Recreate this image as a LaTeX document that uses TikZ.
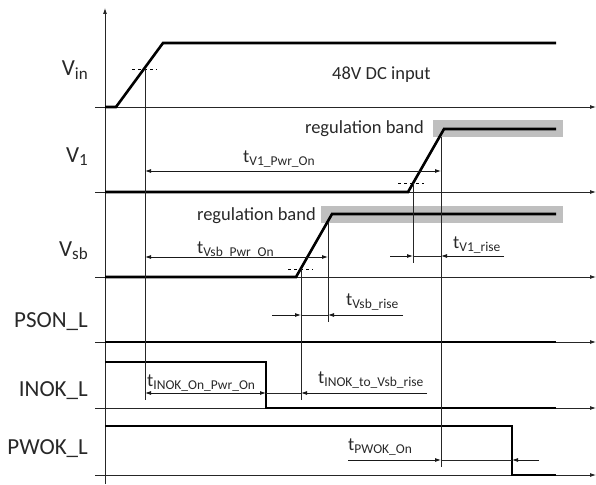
\documentclass[tikz,border=0pt]{standalone}
\usepackage{fontspec}
\setmainfont{Carlito}
\usetikzlibrary{
  arrows.meta,
  calc,
  positioning,
}
\definecolor{bandgray}{RGB}{191, 191, 191}
\definecolor{textgray}{RGB}{40, 40, 40}
\tikzstyle{axis} = [
  -{Latex[length=6pt,width=4pt]},
  line width=0.8pt,
  black!85,
]
\tikzstyle{signal} = [
  line width=2.6pt,
  black,
]
\tikzstyle{marker} = [
  line width=0.8pt,
  black!85,
]
\tikzstyle{tarrow} = [
  -{Latex[length=6pt,width=4pt]},
  line width=0.8pt,
  black!90,
]
\tikzstyle{level} = [
  line width=0.8pt,
  dash pattern=on 3pt off 3pt,
]
\tikzstyle{signame} = [
  anchor=base east,
  inner sep=0pt,
  text=textgray,
  font=\fontsize{23}{23}\selectfont,
]
\tikzstyle{tlabel} = [
  anchor=base west,
  inner sep=0pt,
  text=textgray,
  font=\fontsize{18.5}{18.5}\selectfont,
]
\newcommand{\sigsub}[2]{#1\raisebox{-0.3ex}{\fontsize{17}{17}\selectfont #2}}
\newcommand{\tsub}[1]{t\raisebox{-0.35ex}{\fontsize{13.5}{13.5}\selectfont #1}}

\begin{document}
\begin{tikzpicture}[x=1pt,y=-1pt]
  \useasboundingbox (0,0) rectangle (596,484);

  % regulation bands
  \fill[bandgray] (433,120) rectangle (563,137);
  \fill[bandgray] (321,206) rectangle (563,223);

  % axes
  \draw[axis] (105,484) -- (105,8);
  \foreach \y in {107,192,277,342,408,475}
    \draw[axis] (95,\y) -- (596,\y);

  % markers on the time axis
  \coordinate (vinmid) at (145,69);
  \coordinate (vsbstart) at (301,269);
  \coordinate (vsbok) at (328,223);
  \coordinate (vonestart) at (413,183);
  \coordinate (voneok) at (441,137);
  \coordinate (inokfall) at (266,408);
  \coordinate (pwokfall) at (512,475);

  % signals
  \draw[signal] (105,107) -- (116,107) -- (163,43) -- (556,43);
  \draw[signal] (105,192) -- (408,192) -- (444,129) -- (556,129);
  \draw[signal] (105,277) -- (296,277) -- (332,214) -- (556,214);
  \draw[signal] (105,342) -- (556,342);
  \draw[signal] (105,362) -- (266,362) -- (inokfall) -- (556,408);
  \draw[signal] (105,426) -- (512,426) -- (pwokfall) -- (556,475);

  % threshold levels
  \draw[level] (132,69) -- (157,69);
  \draw[level] (398,183) -- (424,183);
  \draw[level] (288,269) -- (313,269);

  % vertical marker lines
  \draw[marker] (vinmid) -- (vinmid |- 0,400);
  \draw[marker] (vsbstart) -- (vsbstart |- 0,400);
  \draw[marker] (vsbok) -- (vsbok |- 0,322);
  \draw[marker] (vonestart) -- (vonestart |- 0,263);
  \draw[marker] (voneok) -- (voneok |- 0,467);

  % timing arrows
  \draw[tarrow,{Latex[length=6pt,width=4pt]}-{Latex[length=6pt,width=4pt]}] (vinmid |- 0,171) -- (voneok |- 0,171);
  \draw[tarrow,{Latex[length=6pt,width=4pt]}-{Latex[length=6pt,width=4pt]}] (vinmid |- 0,257) -- (vsbok |- 0,257);

  \draw[tarrow] (390,256) -- (vonestart |- 0,256);
  \draw[marker] (vonestart |- 0,256) -- (voneok |- 0,256);
  \draw[tarrow] (504,256) -- (voneok |- 0,256);

  \draw[tarrow] (272,315) -- (vsbstart |- 0,315);
  \draw[marker] (vsbstart |- 0,315) -- (vsbok |- 0,315);
  \draw[tarrow] (403,315) -- (vsbok |- 0,315);

  \draw[tarrow,{Latex[length=6pt,width=4pt]}-{Latex[length=6pt,width=4pt]}] (vinmid |- 0,393) -- (inokfall |- 0,393);
  \draw[marker] (inokfall |- 0,393) -- (vsbstart |- 0,393);
  \draw[tarrow] (427,393) -- (vsbstart |- 0,393);

  \draw[tarrow] (348,460) -- (voneok |- 0,460);
  \draw[marker] (voneok |- 0,460) -- (pwokfall |- 0,460);
  \draw[tarrow] (539,460) -- (pwokfall |- 0,460);

  % signal names
  \node[signame] (vin)   at (88,76)  {\sigsub{V}{in}};
  \node[signame] (vone)  at (88,162) {\sigsub{V}{1}};
  \node[signame] (vsb)   at (88,256) {\sigsub{V}{sb}};
  \node[signame] (pson)  at (88,327) {PSON\_L};
  \node[signame] (inok)  at (88,396) {INOK\_L};
  \node[signame] (pwok)  at (88,454) {PWOK\_L};

  % texts
  \node[tlabel] (dcin) at (332,80) {48V DC input};
  \node[tlabel,anchor=base east] (voneband) at (424,133) {regulation band};
  \node[tlabel,anchor=base east] (vsbband) at (316,220) {regulation band};

  \node[tlabel] (tvonepwr) at (243,162) {\tsub{V1\_Pwr\_On}};
  \node[tlabel] (tvonerise) at (453,248) {\tsub{V1\_rise}};
  \node[tlabel] (tvsbpwr) at (197,253) {\tsub{Vsb\_Pwr\_On}};
  \node[tlabel] (tvsbrise) at (346,305) {\tsub{Vsb\_rise}};
  \node[tlabel] (tinokon) at (147,386) {\tsub{INOK\_On\_Pwr\_On}};
  \node[tlabel] (tinokvsb) at (318,383) {\tsub{INOK\_to\_Vsb\_rise}};
  \node[tlabel] (tpwokon) at (348,450) {\tsub{PWOK\_On}};
\end{tikzpicture}
\end{document}
